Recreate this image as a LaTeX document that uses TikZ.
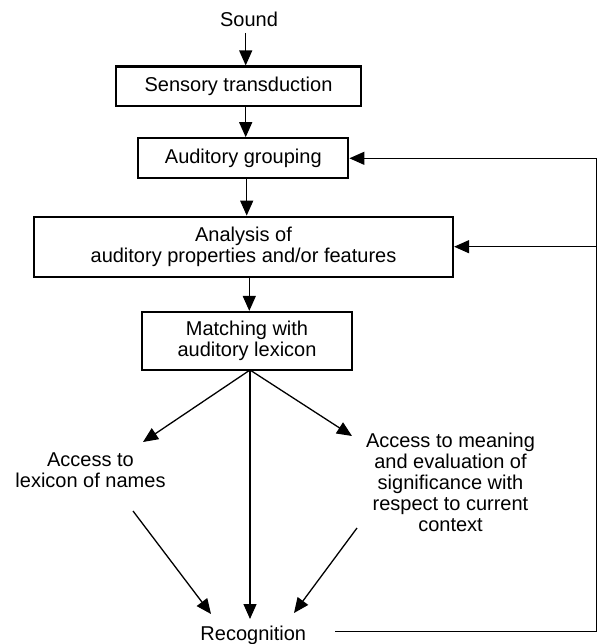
\documentclass[tikz,border=0pt]{standalone}
\usepackage{fontspec}
\setmainfont{Liberation Sans}
\usetikzlibrary{arrows.meta}
\begin{document}
\begin{tikzpicture}[x=1pt,y=-1pt,
  every node/.style={font=\fontsize{20}{21}\selectfont, align=center, inner sep=0pt},
  procbox/.style={draw, line width=2.2pt, minimum width=#1},
  conn/.style={line width=1.3pt, -{Triangle[length=15pt,width=13pt]}},
  fbline/.style={line width=1.3pt},
  fb/.style={line width=1.3pt, -{Triangle[length=15pt,width=13pt]}}]
\useasboundingbox (0,0) rectangle (599,644);
\node[anchor=base] (sound) at (249,27) {Sound};
\node[procbox=245pt, minimum height=39.5pt] (sens) at (238.5,86.3) {Sensory transduction};
\node[procbox=210pt, minimum height=40pt] (group) at (243.3,158.3) {Auditory grouping};
\node[procbox=419pt, minimum height=60pt] (anal) at (243.5,246.7) {Analysis of\\auditory properties and/or features};
\node[procbox=210pt, minimum height=58pt] (match) at (247,341) {Matching with\\auditory lexicon};
\node[anchor=north] (lex) at (90.5,452.7) {Access to\\lexicon of names};
\node[anchor=north] (mean) at (450.5,433) {Access to meaning\\and evaluation of\\significance with\\respect to current\\context};
\node[anchor=base] (rec) at (253.3,640) {Recognition};
\coordinate (sdown) at (245.7,33);
\coordinate (mO) at (250,370);
\coordinate (lexIn) at (143,442);
\coordinate (meanIn) at (352,436);
\coordinate (recC) at (250,619);
\coordinate (lexOut) at (133,511);
\coordinate (recL) at (211,614);
\coordinate (meanOut) at (357,528);
\coordinate (recR) at (294,613);
\coordinate (fbS) at (335,631.7);
\coordinate (fbB) at (596.7,631.7);
\coordinate (fbT) at (596.7,158.3);
\draw[conn] (sdown) -- (sdown |- sens.north);
\draw[conn] (sdown |- sens.south) -- (sdown |- group.north);
\draw[conn] (246.7,0 |- group.south) -- (246.7,0 |- anal.north);
\draw[conn] (249.3,0 |- anal.south) -- (249.3,0 |- match.north);
\draw[conn] (mO) -- (lexIn);
\draw[conn] (mO) -- (meanIn);
\draw[conn] (mO) -- (recC);
\draw[conn] (lexOut) -- (recL);
\draw[conn] (meanOut) -- (recR);
\draw[fbline] (fbS) -- (fbB) -- (fbT);
\draw[fb] (fbT) -- (group.east |- fbT);
\draw[fb] (fbT |- anal.east) -- (anal.east);
\end{tikzpicture}
\end{document}
